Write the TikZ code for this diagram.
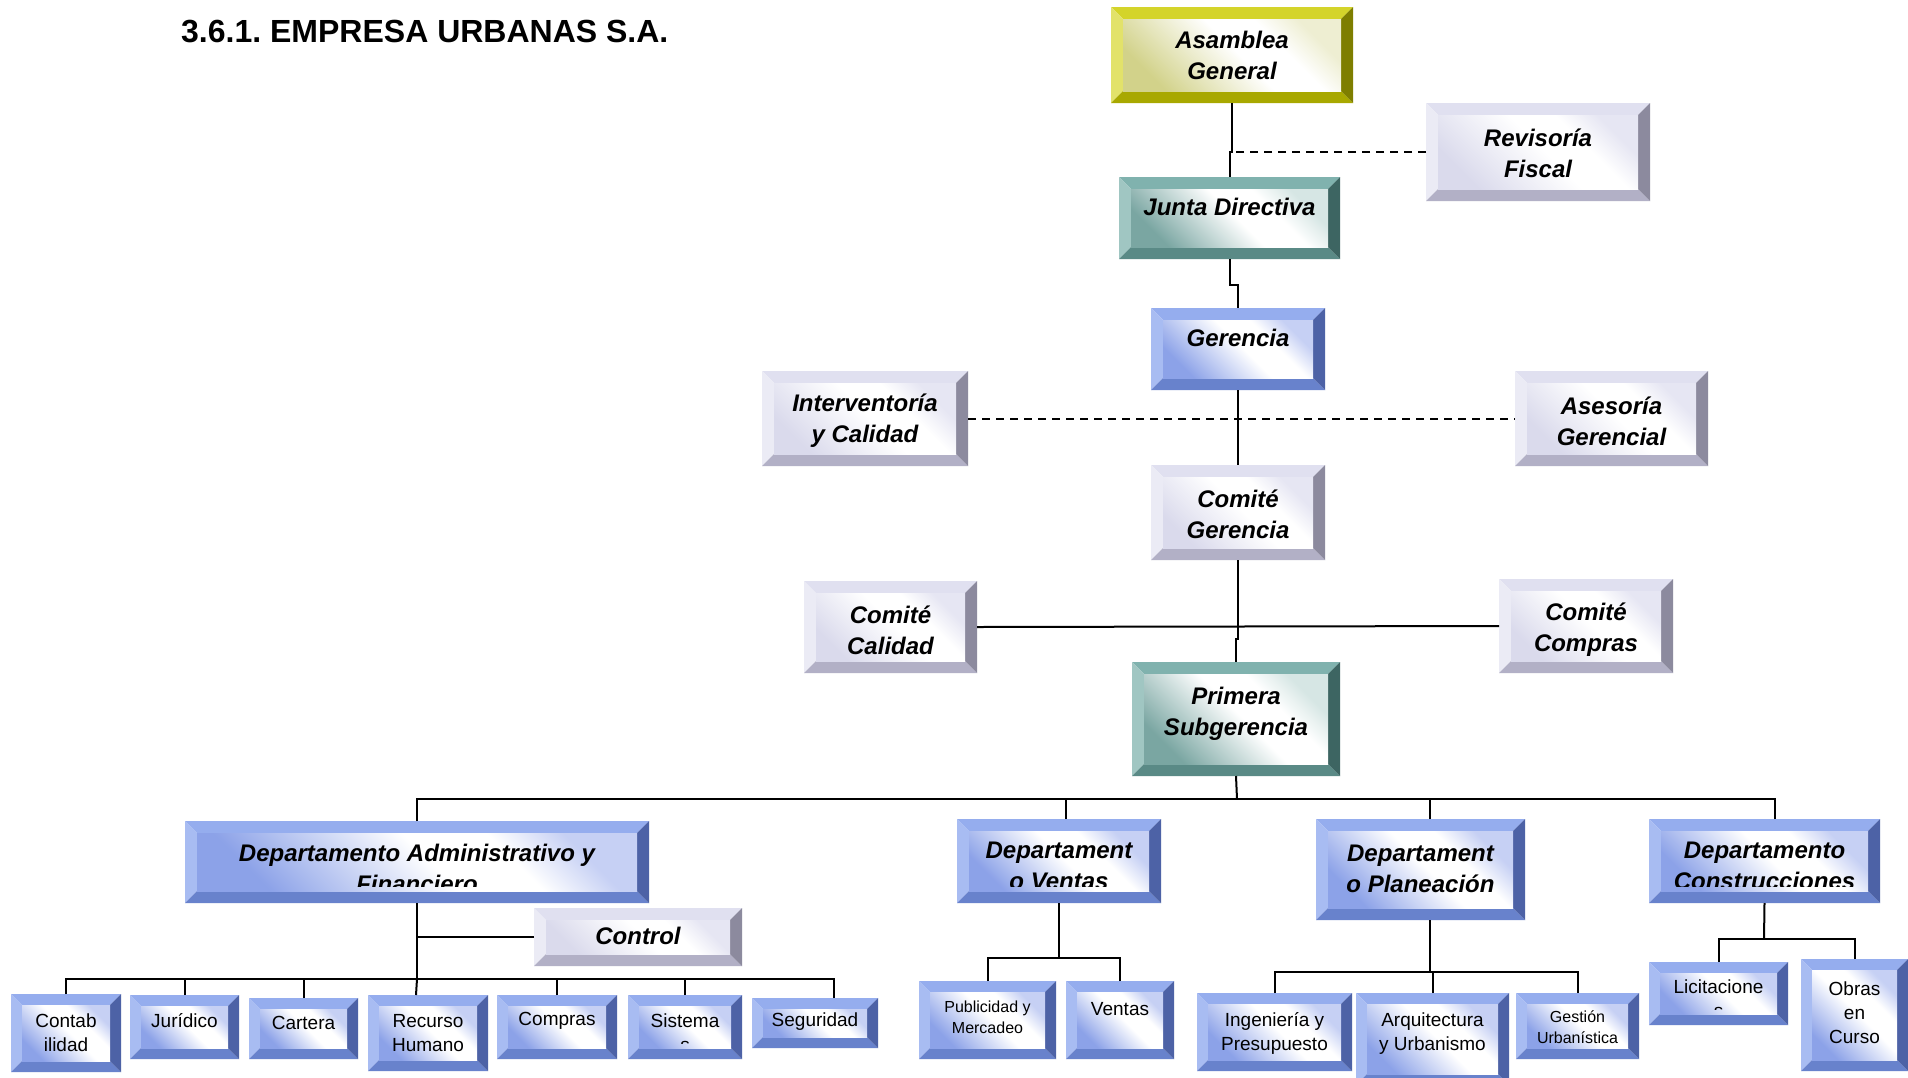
\documentclass[tikz,border=0pt]{standalone}
\usepackage{fontspec}
\setmainfont{Liberation Sans}
\frenchspacing
% bevel colours: T top, L left, B bottom, R right; face dark / light
\definecolor{YT}{HTML}{D4D42A}\definecolor{YL}{HTML}{E2E26A}\definecolor{YB}{HTML}{A8A800}\definecolor{YR}{HTML}{7E7E00}
\definecolor{YD}{HTML}{D2D28A}\definecolor{YLt}{HTML}{EEEED2}
\definecolor{TT}{HTML}{80B2AE}\definecolor{TL}{HTML}{A0C6C2}\definecolor{TB}{HTML}{5A8A86}\definecolor{TR}{HTML}{3D6562}
\definecolor{TD}{HTML}{7AA6A2}\definecolor{TLt}{HTML}{D6E6E4}
\definecolor{BT}{HTML}{95ADEE}\definecolor{BL}{HTML}{A8BCF2}\definecolor{BB}{HTML}{6882CC}\definecolor{BR}{HTML}{4D62A6}
\definecolor{BD}{HTML}{8CA2E8}\definecolor{BLt}{HTML}{C6D0F4}
\definecolor{GT}{HTML}{E0E0F0}\definecolor{GL}{HTML}{EBEBF5}\definecolor{GB}{HTML}{B2B0C6}\definecolor{GR}{HTML}{8C8A9E}
\definecolor{GD}{HTML}{DADAEC}\definecolor{GLt}{HTML}{E6E6F3}
\pgfdeclarehorizontalshading{faceY}{100bp}{color(0bp)=(YD); color(25bp)=(YD); color(52bp)=(white); color(64bp)=(white); color(75bp)=(YLt); color(100bp)=(YLt)}
\pgfdeclarehorizontalshading{faceT}{100bp}{color(0bp)=(TD); color(25bp)=(TD); color(52bp)=(white); color(64bp)=(white); color(75bp)=(TLt); color(100bp)=(TLt)}
\pgfdeclarehorizontalshading{faceB}{100bp}{color(0bp)=(BD); color(25bp)=(BD); color(52bp)=(white); color(64bp)=(white); color(75bp)=(BLt); color(100bp)=(BLt)}
\pgfdeclarehorizontalshading{faceG}{100bp}{color(0bp)=(GD); color(25bp)=(GD); color(52bp)=(white); color(64bp)=(white); color(75bp)=(GLt); color(100bp)=(GLt)}
\tikzset{
 conn/.style={line width=2pt, black},
 dashconn/.style={line width=2pt, black, dash pattern=on 8pt off 6pt},
 bigtxt/.style={font=\fontsize{24}{31}\selectfont\bfseries\itshape, align=center, inner sep=0pt},
 smalltxt/.style={font=\fontsize{19}{24}\selectfont, align=center, inner sep=0pt},
 tinytxt/.style={font=\fontsize{16}{21}\selectfont, align=center, inner sep=0pt},
 anchorbox/.style={rectangle, inner sep=0pt, outer sep=0pt}
}
\def\bw{12}
% #1 name, #2 x1, #3 y1, #4 x2, #5 y2, #6 family, #7 text style, #8 text y, #9 text
\newcommand\bevbox[9]{%
 \node[anchorbox, minimum width={#4pt-#2pt}, minimum height={#5pt-#3pt}] (#1) at ({(#2+#4)/2},{(#3+#5)/2}) {};
 \fill[#6T] (#2,#3) -- (#4,#3) -- ({#4-\bw},{#3+\bw}) -- ({#2+\bw},{#3+\bw}) -- cycle;
 \fill[#6L] (#2,#3) -- ({#2+\bw},{#3+\bw}) -- ({#2+\bw},{#5-\bw}) -- (#2,#5) -- cycle;
 \fill[#6B] (#2,#5) -- ({#2+\bw},{#5-\bw}) -- ({#4-\bw},{#5-\bw}) -- (#4,#5) -- cycle;
 \fill[#6R] (#4,#3) -- (#4,#5) -- ({#4-\bw},{#5-\bw}) -- ({#4-\bw},{#3+\bw}) -- cycle;
 \shade[shading=face#6, shading angle=45] ({#2+\bw},{#3+\bw}) rectangle ({#4-\bw},{#5-\bw});
 \begin{scope}
  \clip ({#2+\bw},{#3+\bw}) rectangle ({#4-\bw},{#5-\bw-5});
  \node[#7] (#1txt) at ({(#2+#4)/2},#8) {#9};
 \end{scope}}
\begin{document}
\begin{tikzpicture}[x=1pt,y=-1pt]
\fill[white] (0,0) rectangle (1908,1077);
\useasboundingbox (0,0) rectangle (1908,1077);

\node[anchor=base west, font=\fontsize{32}{38}\selectfont\bfseries, inner sep=0pt] (title) at (181,42) {3.6.1. EMPRESA URBANAS S.A.};

% upper chain
\bevbox{asam}{1111}{7}{1353}{103}{Y}{bigtxt}{55}{Asamblea\\General}
\bevbox{rev}{1426}{103}{1650}{201}{G}{bigtxt}{153}{Revisoría\\Fiscal}
\bevbox{junta}{1119}{177}{1340}{259}{T}{bigtxt}{207}{Junta Directiva}
\bevbox{ger}{1151}{308}{1325}{390}{B}{bigtxt}{338}{Gerencia}
\bevbox{inter}{762}{371}{968}{466}{G}{bigtxt}{421}{Interventoría\\y Calidad}
\bevbox{ases}{1515}{371}{1708}{466}{G}{bigtxt}{421}{Asesoría\\Gerencial}
\bevbox{cger}{1151}{465}{1325}{560}{G}{bigtxt}{514}{Comité\\Gerencia}
\bevbox{ccal}{804}{581}{977}{673}{G}{bigtxt}{630}{Comité\\Calidad}
\bevbox{ccom}{1499}{579}{1673}{673}{G}{bigtxt}{630}{Comité\\Compras}
\bevbox{prim}{1132}{662}{1340}{776}{T}{bigtxt}{714}{Primera\\Subgerencia}
% departments
\bevbox{dadm}{185}{821}{649}{903}{B}{bigtxt}{868}{Departamento Administrativo y\\Financiero}
\bevbox{dven}{957}{819}{1161}{903}{B}{bigtxt}{866}{Departament\\o Ventas}
\bevbox{dpla}{1316}{819}{1525}{920}{B}{bigtxt}{869}{Departament\\o Planeación}
\bevbox{dcon}{1649}{819}{1880}{903}{B}{bigtxt}{866}{Departamento\\Construcciones}
\bevbox{ctrl}{534}{908}{742}{966}{G}{bigtxt}{936}{Control}
% bottom row
\def\bw{11}
\bevbox{cont}{11}{994}{121}{1072}{B}{smalltxt}{1033}{Contab\\ilidad}
\bevbox{jur}{130}{995}{239}{1059}{B}{smalltxt}{1021}{Jurídico}
\bevbox{car}{249}{998}{358}{1059}{B}{smalltxt}{1023}{Cartera}
\bevbox{rec}{368}{995}{488}{1071}{B}{smalltxt}{1033}{Recurso\\Humano}
\bevbox{comp}{497}{995}{617}{1059}{B}{smalltxt}{1021}{Compras}
\bevbox{sis}{628}{995}{742}{1059}{B}{smalltxt}{1033}{Sistema\\s}
\bevbox{seg}{752}{998}{878}{1048}{B}{smalltxt}{1022}{Seguridad}
\bevbox{pub}{919}{981}{1056}{1059}{B}{tinytxt}{1017}{Publicidad y\\Mercadeo}
\bevbox{ven}{1066}{981}{1174}{1059}{B}{smalltxt}{1009}{Ventas}
\bevbox{ing}{1197}{993}{1352}{1071}{B}{smalltxt}{1033}{Ingeniería y\\Presupuesto}
\bevbox{arq}{1356}{993}{1509}{1085}{B}{smalltxt}{1034}{Arquitectura\\y Urbanismo}
\bevbox{ges}{1516}{993}{1639}{1059}{B}{tinytxt}{1027}{Gestión\\Urbanística}
\bevbox{lic}{1649}{962}{1788}{1025}{B}{smalltxt}{999}{Licitacione\\s}
\bevbox{obr}{1801}{959}{1908}{1071}{B}{smalltxt}{1013}{Obras\\en\\Curso}

% junction points
\coordinate (j1) at (1230,152);
\coordinate (j2) at (1238,285);
\coordinate (j3) at (1236,639);
\coordinate (b0) at (1237,799);
\coordinate (dvenT) at (1066,819);
\coordinate (dplaT) at (1430,819);
\coordinate (dconT) at (1775,819);
\coordinate (j6) at (417,979);
\coordinate (recT) at (416,995);
\coordinate (segT) at (834,998);
\coordinate (j7) at (1059,958);
\coordinate (dplaB) at (1430,920);
\coordinate (j8) at (1430,972);
\coordinate (j9) at (1764,939);

% connectors
\draw[conn] (asam.south) |- (j1) -| (junta.north);
\draw[dashconn] (rev.west) -- (j1);
\draw[conn] (junta.south) |- (j2) -| (ger.north);
\draw[conn] (ger.south) -- (cger.north);
\draw[dashconn] (inter.east) -- (ases.west);
\draw[conn] (cger.south) |- (j3) -| (prim.north);
\draw[conn] (ccal.east) -- (ccom.west);
\draw[conn] (prim.south) -- (b0);
\draw[conn] (dadm.north) |- (b0);
\draw[conn] (dvenT) |- (b0);
\draw[conn] (dplaT) |- (b0);
\draw[conn] (dconT) |- (b0);
% administrative
\draw[conn] (dadm.south) -- (j6);
\draw[conn] (ctrl.west) -- (ctrl.west -| dadm.south);
\draw[conn] (cont.north) |- (j6);
\draw[conn] (jur.north) |- (j6);
\draw[conn] (car.north) |- (j6);
\draw[conn] (recT) -- (j6);
\draw[conn] (comp.north) |- (j6);
\draw[conn] (sis.north) |- (j6);
\draw[conn] (segT) |- (j6);
% ventas
\draw[conn] (dven.south) -- (j7);
\draw[conn] (pub.north) |- (j7);
\draw[conn] (ven.north) |- (j7);
% planeacion
\draw[conn] (dplaB) -- (j8);
\draw[conn] (ing.north) |- (j8);
\draw[conn] (arq.north) |- (j8);
\draw[conn] (ges.north) |- (j8);
% construcciones
\draw[conn] (dcon.south) -- (j9);
\draw[conn] (lic.north) |- (j9);
\draw[conn] (obr.north) |- (j9);
\end{tikzpicture}
\end{document}
